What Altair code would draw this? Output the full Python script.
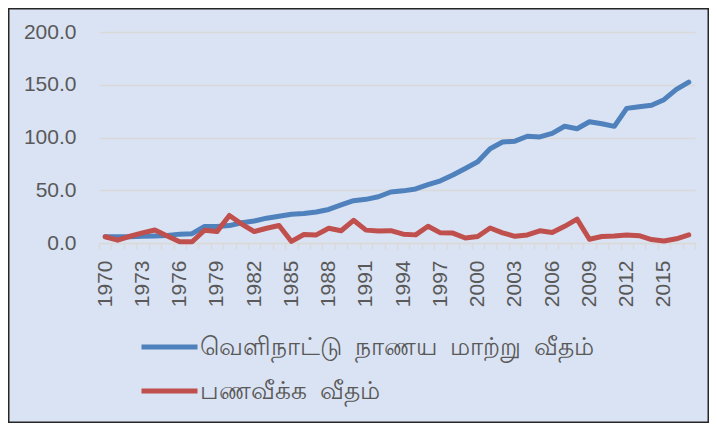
import altair as alt
import pandas as pd

years = list(range(1970, 2018))
exchange_rate = [5.95, 5.93, 5.97, 6.40, 6.65, 7.01, 8.41, 8.87, 15.61, 15.57,
                 16.53, 19.25, 20.81, 23.53, 25.44, 27.16, 28.02, 29.45, 31.81, 36.05,
                 40.06, 41.37, 43.83, 48.32, 49.42, 51.25, 55.27, 58.99, 64.45, 70.64,
                 77.01, 89.38, 95.66, 96.52, 101.19, 100.50, 103.91, 110.62, 108.33, 114.94,
                 113.06, 110.57, 127.60, 129.07, 130.56, 135.86, 145.60, 152.45]
inflation = [5.9, 2.7, 6.4, 9.6, 12.3, 6.7, 1.2, 1.2, 12.1, 10.8,
             26.1, 18.0, 10.8, 14.0, 16.6, 1.5, 8.0, 7.7, 14.0, 11.6,
             21.5, 12.2, 11.4, 11.7, 8.4, 7.7, 15.9, 9.6, 9.4, 4.7,
             6.2, 14.2, 9.6, 6.3, 7.6, 11.6, 10.0, 15.8, 22.6, 3.5,
             6.2, 6.7, 7.5, 6.9, 3.3, 1.9, 4.0, 7.7]
series_names = ["வெளிநாட்டு நாணய மாற்று வீதம்", "பணவீக்க வீதம்"]
series_colors = ["#4f81bd", "#c0504d"]
y_ticks = [0, 50, 100, 150, 200]

df = pd.DataFrame({
    "year": years + years,
    "value": exchange_rate + inflation,
    "series": [series_names[0]] * len(years) + [series_names[1]] * len(years),
})

FONT = "Liberation Sans"
TXT = "#595959"
GRID = "#d9d9d9"

lines = alt.Chart(df).mark_line(strokeWidth=5, strokeCap="round", strokeJoin="round").encode(
    x=alt.X("year:O", bandPosition=0.5,
            scale=alt.Scale(type="band", paddingInner=0, paddingOuter=0),
            axis=alt.Axis(title=None, labelAngle=-90,
                          labelExpr="(datum.value - 1970) % 3 == 0 ? datum.label : ''",
                          tickBand="extent", ticks=True, tickSize=6, tickColor=GRID,
                          tickWidth=1.5,
                          domainColor=GRID, domainWidth=1.5, labelColor=TXT, labelFontSize=21,
                          labelFont=FONT, labelPadding=11, labelOverlap=False, grid=False)),
    y=alt.Y("value:Q", scale=alt.Scale(domain=[0, 200], nice=False),
            axis=alt.Axis(title=None, values=y_ticks, format=".1f", domain=False, ticks=False,
                          gridColor=GRID, gridWidth=1.5, labelFontSize=21, labelFont=FONT,
                          labelPadding=23, labelColor=TXT)),
    color=alt.Color("series:N", scale=alt.Scale(domain=series_names, range=series_colors),
                    legend=alt.Legend(title=None, orient="none", legendX=40, legendY=294,
                                      direction="vertical", symbolType="stroke",
                                      symbolSize=3136, symbolStrokeWidth=5,
                                      labelFontSize=25, labelColor=TXT, labelFont="Noto Sans",
                                      labelExpr="replace(datum.label, / /g, ' \u00a0')",
                                      labelOffset=0, clipHeight=42, rowPadding=2,
                                      padding=0, labelLimit=0)),
)

frame = alt.Chart(alt.Data(values=[{}])).mark_rect(
    fillOpacity=0, stroke="#262626", strokeWidth=1.5
).encode(
    x=alt.value(-90.25), x2=alt.value(609.25), y=alt.value(-23.25), y2=alt.value(390.25)
)

chart = alt.layer(frame, lines).properties(
    width=596, height=211,
    padding={"left": 91, "top": 24, "right": 14, "bottom": 180},
    autosize=alt.AutoSizeParams(type="none"),
    background="#dae3f3",
).configure_view(strokeWidth=0)

chart.save("out.html", embed_options={"renderer": "svg", "actions": False})
